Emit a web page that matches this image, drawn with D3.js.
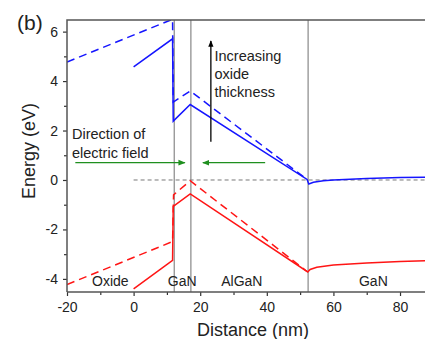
<!DOCTYPE html>
<html>
<head>
<meta charset="utf-8">
<script src="https://cdn.jsdelivr.net/npm/d3@7"></script>
<style>
  body { margin: 0; background: #fff; }
  text { font-family: "Liberation Sans", Arial, sans-serif; fill: #222; }
</style>
</head>
<body>
<svg id="vis" width="425" height="339"></svg>
<script>
// band edge profiles (distance nm, energy eV)
var cbSolid = [[0, 4.57], [11.7, 5.71], [11.9, 2.38], [17, 3.05], [52.1, 0.02], [52.6, -0.16],
  [54, -0.09], [57, -0.03], [60, 0.0], [70, 0.06], [80, 0.1], [88, 0.11]];
var cbDashed = [[-20, 4.77], [11.7, 6.5], [11.9, 3.15], [17, 3.6], [52, 0.03]];
var vbSolid = [[0, -4.4], [11.7, -3.25], [11.9, -1.07], [17, -0.56], [52.3, -3.72], [53, -3.62],
  [55, -3.53], [60, -3.44], [70, -3.36], [80, -3.3], [88, -3.26]];
var vbDashed = [[-20, -4.23], [11.7, -2.49], [12, -0.6], [17, -0.03], [52, -3.69]];

var interfaces = [12.2, 17.2, 52.4];
var layers = [{name: "Oxide", x: -7}, {name: "GaN", x: 14.6}, {name: "AlGaN", x: 32.5}, {name: "GaN", x: 72}];
var xTicks = [-20, 0, 20, 40, 60, 80];
var yTicks = [-4, -2, 0, 2, 4, 6];

var svg = d3.select("#vis");
var pLeft = 67, pRight = 425, pTop = 20, pBottom = 292;

var x = d3.scaleLinear().domain([-20, 87.5]).range([pLeft, pRight]);
var y = d3.scaleLinear().domain([-4.53, 6.47]).range([pBottom, pTop]);

var defs = svg.append("defs");
defs.append("clipPath").attr("id", "clip")
  .append("rect").attr("x", pLeft).attr("y", pTop).attr("width", pRight - pLeft).attr("height", pBottom - pTop);

defs.append("marker").attr("id", "gh").attr("viewBox", "0 0 10 10").attr("refX", 9).attr("refY", 5)
  .attr("markerWidth", 5.5).attr("markerHeight", 5.5).attr("orient", "auto")
  .append("path").attr("d", "M0,1L10,5L0,9z").attr("fill", "#1f8f1f");
defs.append("marker").attr("id", "bh").attr("viewBox", "0 0 10 10").attr("refX", 9).attr("refY", 5)
  .attr("markerWidth", 5).attr("markerHeight", 5).attr("orient", "auto")
  .append("path").attr("d", "M0,1L10,5L0,9z").attr("fill", "#000");

var plot = svg.append("g").attr("clip-path", "url(#clip)");

// zero reference
plot.append("line")
  .attr("x1", x(0)).attr("x2", pRight).attr("y1", y(0)).attr("y2", y(0))
  .attr("stroke", "#777").attr("stroke-width", 1).attr("stroke-dasharray", "4,3");

// layer interfaces
plot.selectAll(".iface").data(interfaces).enter().append("line")
  .attr("x1", function(d) { return x(d); }).attr("x2", function(d) { return x(d); })
  .attr("y1", pTop).attr("y2", pBottom)
  .attr("stroke", "#888").attr("stroke-width", 1.2);

var line = d3.line().x(function(d) { return x(d[0]); }).y(function(d) { return y(d[1]); });

var series = [
  {data: cbDashed, color: "#1515ff", dash: "8,5"},
  {data: vbDashed, color: "#ff1515", dash: "8,5"},
  {data: cbSolid, color: "#1515ff", dash: null},
  {data: vbSolid, color: "#ff1515", dash: null}
];
series.forEach(function(s) {
  plot.append("path").datum(s.data)
    .attr("d", line)
    .attr("fill", "none")
    .attr("stroke", s.color)
    .attr("stroke-width", 1.5)
    .attr("stroke-dasharray", s.dash);
});

// axes (plain hyphen for negatives, like the original)
var fmt = function(d) { return d < 0 ? "-" + (-d) : String(d); };
var xAxis = d3.axisBottom(x).tickValues(xTicks).tickSize(4).tickPadding(6).tickFormat(fmt);
var xMinor = d3.axisBottom(x).tickValues([-10, 10, 30, 50, 70]).tickSize(3).tickFormat("");
var yAxis = d3.axisLeft(y).tickValues(yTicks).tickSize(4).tickPadding(5).tickFormat(fmt);
var yMinor = d3.axisLeft(y).tickValues([-3, -1, 1, 3, 5]).tickSize(3).tickFormat("");

function styleAxis(g) {
  g.select(".domain").remove();
  g.selectAll("line").attr("stroke", "#333").attr("stroke-width", 1.2);
  g.selectAll("text").attr("font-size", 14).attr("fill", "#222")
    .attr("font-family", "Liberation Sans, Arial, sans-serif");
}
svg.append("g").attr("transform", "translate(0," + pBottom + ")").call(xAxis).call(styleAxis);
svg.append("g").attr("transform", "translate(0," + pBottom + ")").call(xMinor).call(styleAxis);
svg.append("g").attr("transform", "translate(" + pLeft + ",0)").call(yAxis).call(styleAxis);
svg.append("g").attr("transform", "translate(" + pLeft + ",0)").call(yMinor).call(styleAxis);

// frame
svg.append("path")
  .attr("d", "M" + pLeft + "," + pBottom + "V" + pTop + "H" + pRight + "M" + pLeft + "," + pBottom + "H" + pRight)
  .attr("fill", "none").attr("stroke", "#555").attr("stroke-width", 1.5);

// arrows
svg.append("line")
  .attr("x1", x(-17.5)).attr("x2", x(15.4)).attr("y1", y(0.7)).attr("y2", y(0.7))
  .attr("stroke", "#1f8f1f").attr("stroke-width", 1.3).attr("marker-end", "url(#gh)");
svg.append("line")
  .attr("x1", x(39.5)).attr("x2", x(20.8)).attr("y1", y(0.7)).attr("y2", y(0.7))
  .attr("stroke", "#1f8f1f").attr("stroke-width", 1.3).attr("marker-end", "url(#gh)");
svg.append("line")
  .attr("x1", x(23.2)).attr("x2", x(23.2)).attr("y1", y(1.55)).attr("y2", y(5.62))
  .attr("stroke", "#000").attr("stroke-width", 1.3).attr("marker-end", "url(#bh)");

// annotations
var note1 = svg.append("text").attr("font-size", 14.5);
["Increasing", "oxide", "thickness"].forEach(function(t, i) {
  note1.append("tspan").attr("x", x(24.3)).attr("y", 61 + i * 18).text(t);
});
var note2 = svg.append("text").attr("font-size", 14.5);
["Direction of", "electric field"].forEach(function(t, i) {
  note2.append("tspan").attr("x", x(-18.5)).attr("y", 139 + i * 18.5).text(t);
});

svg.selectAll(".layer").data(layers).enter().append("text")
  .attr("x", function(d) { return x(d.x); })
  .attr("y", 286)
  .attr("text-anchor", "middle")
  .attr("font-size", 14)
  .text(function(d) { return d.name; });

// titles
svg.append("text").attr("x", 17).attr("y", 30).attr("font-size", 21).text("(b)");
svg.append("text")
  .attr("transform", "translate(35,151) rotate(-90)")
  .attr("text-anchor", "middle").attr("font-size", 18).text("Energy (eV)");
svg.append("text")
  .attr("x", 253).attr("y", 336)
  .attr("text-anchor", "middle").attr("font-size", 18).text("Distance (nm)");
</script>
</body>
</html>
